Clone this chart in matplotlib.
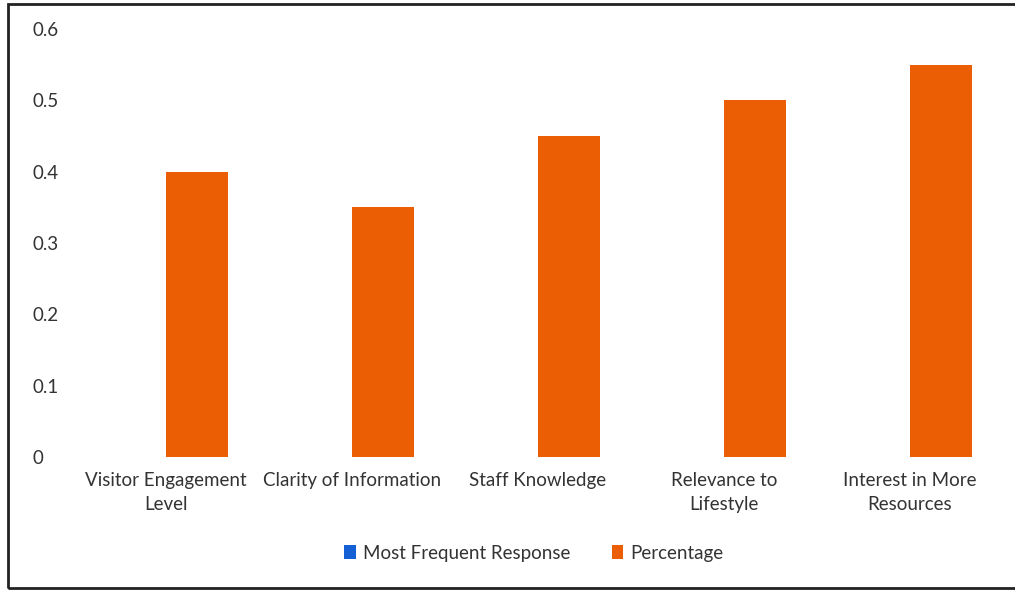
import numpy as np
import matplotlib.pyplot as plt
from matplotlib.patches import Rectangle

categories = ["Visitor Engagement\nLevel", "Clarity of Information", "Staff Knowledge",
              "Relevance to\nLifestyle", "Interest in More\nResources"]
most_frequent = [0, 0, 0, 0, 0]
percentage = [0.40, 0.35, 0.45, 0.50, 0.55]
yticks = [0, 0.1, 0.2, 0.3, 0.4, 0.5, 0.6]

plt.rcParams['font.family'] = ['Lato', 'DejaVu Sans']
fs = 13.5

W, H = 1015, 591
fig = plt.figure(figsize=(W / 100, H / 100), dpi=100)
# axes: x from 73 to 1003 px, y=0 at 457, y=0.6 at 29
ax = fig.add_axes([73 / W, 1 - 457 / H, (1003 - 73) / W, (457 - 29) / H])

x = np.arange(len(categories))
bw = 1 / 3
ax.bar(x - bw / 2, most_frequent, bw, color='#1560d4', label='Most Frequent Response')
ax.bar(x + bw / 2, percentage, bw, color='#ec5e04', label='Percentage')

ax.set_xlim(-0.5, len(categories) - 0.5)
ax.set_ylim(0, 0.6)
ax.set_yticks(yticks)
ax.set_yticklabels(['0' if v == 0 else f'{v:.1f}' for v in yticks], ha='left')
ax.set_xticks(x)
ax.set_xticklabels(categories, linespacing=1.45)
for s in ax.spines.values():
    s.set_visible(False)
ax.tick_params(axis='both', length=0, labelsize=fs, labelcolor='#333333')
ax.tick_params(axis='y', pad=29.5)
ax.tick_params(axis='x', pad=11)

fig.legend(loc='center', bbox_to_anchor=(534 / W, 1 - 553 / H), ncol=2, frameon=False,
           fontsize=fs, handlelength=0.6, handleheight=0.7, handletextpad=0.4,
           columnspacing=2.2, labelcolor='#333333')

fig.patches.append(Rectangle((8 / W, 3 / H), 1.1, 1 - 7 / H, transform=fig.transFigure,
                             fill=False, edgecolor='#222222', linewidth=2))

fig.savefig('out.png', dpi=100)
